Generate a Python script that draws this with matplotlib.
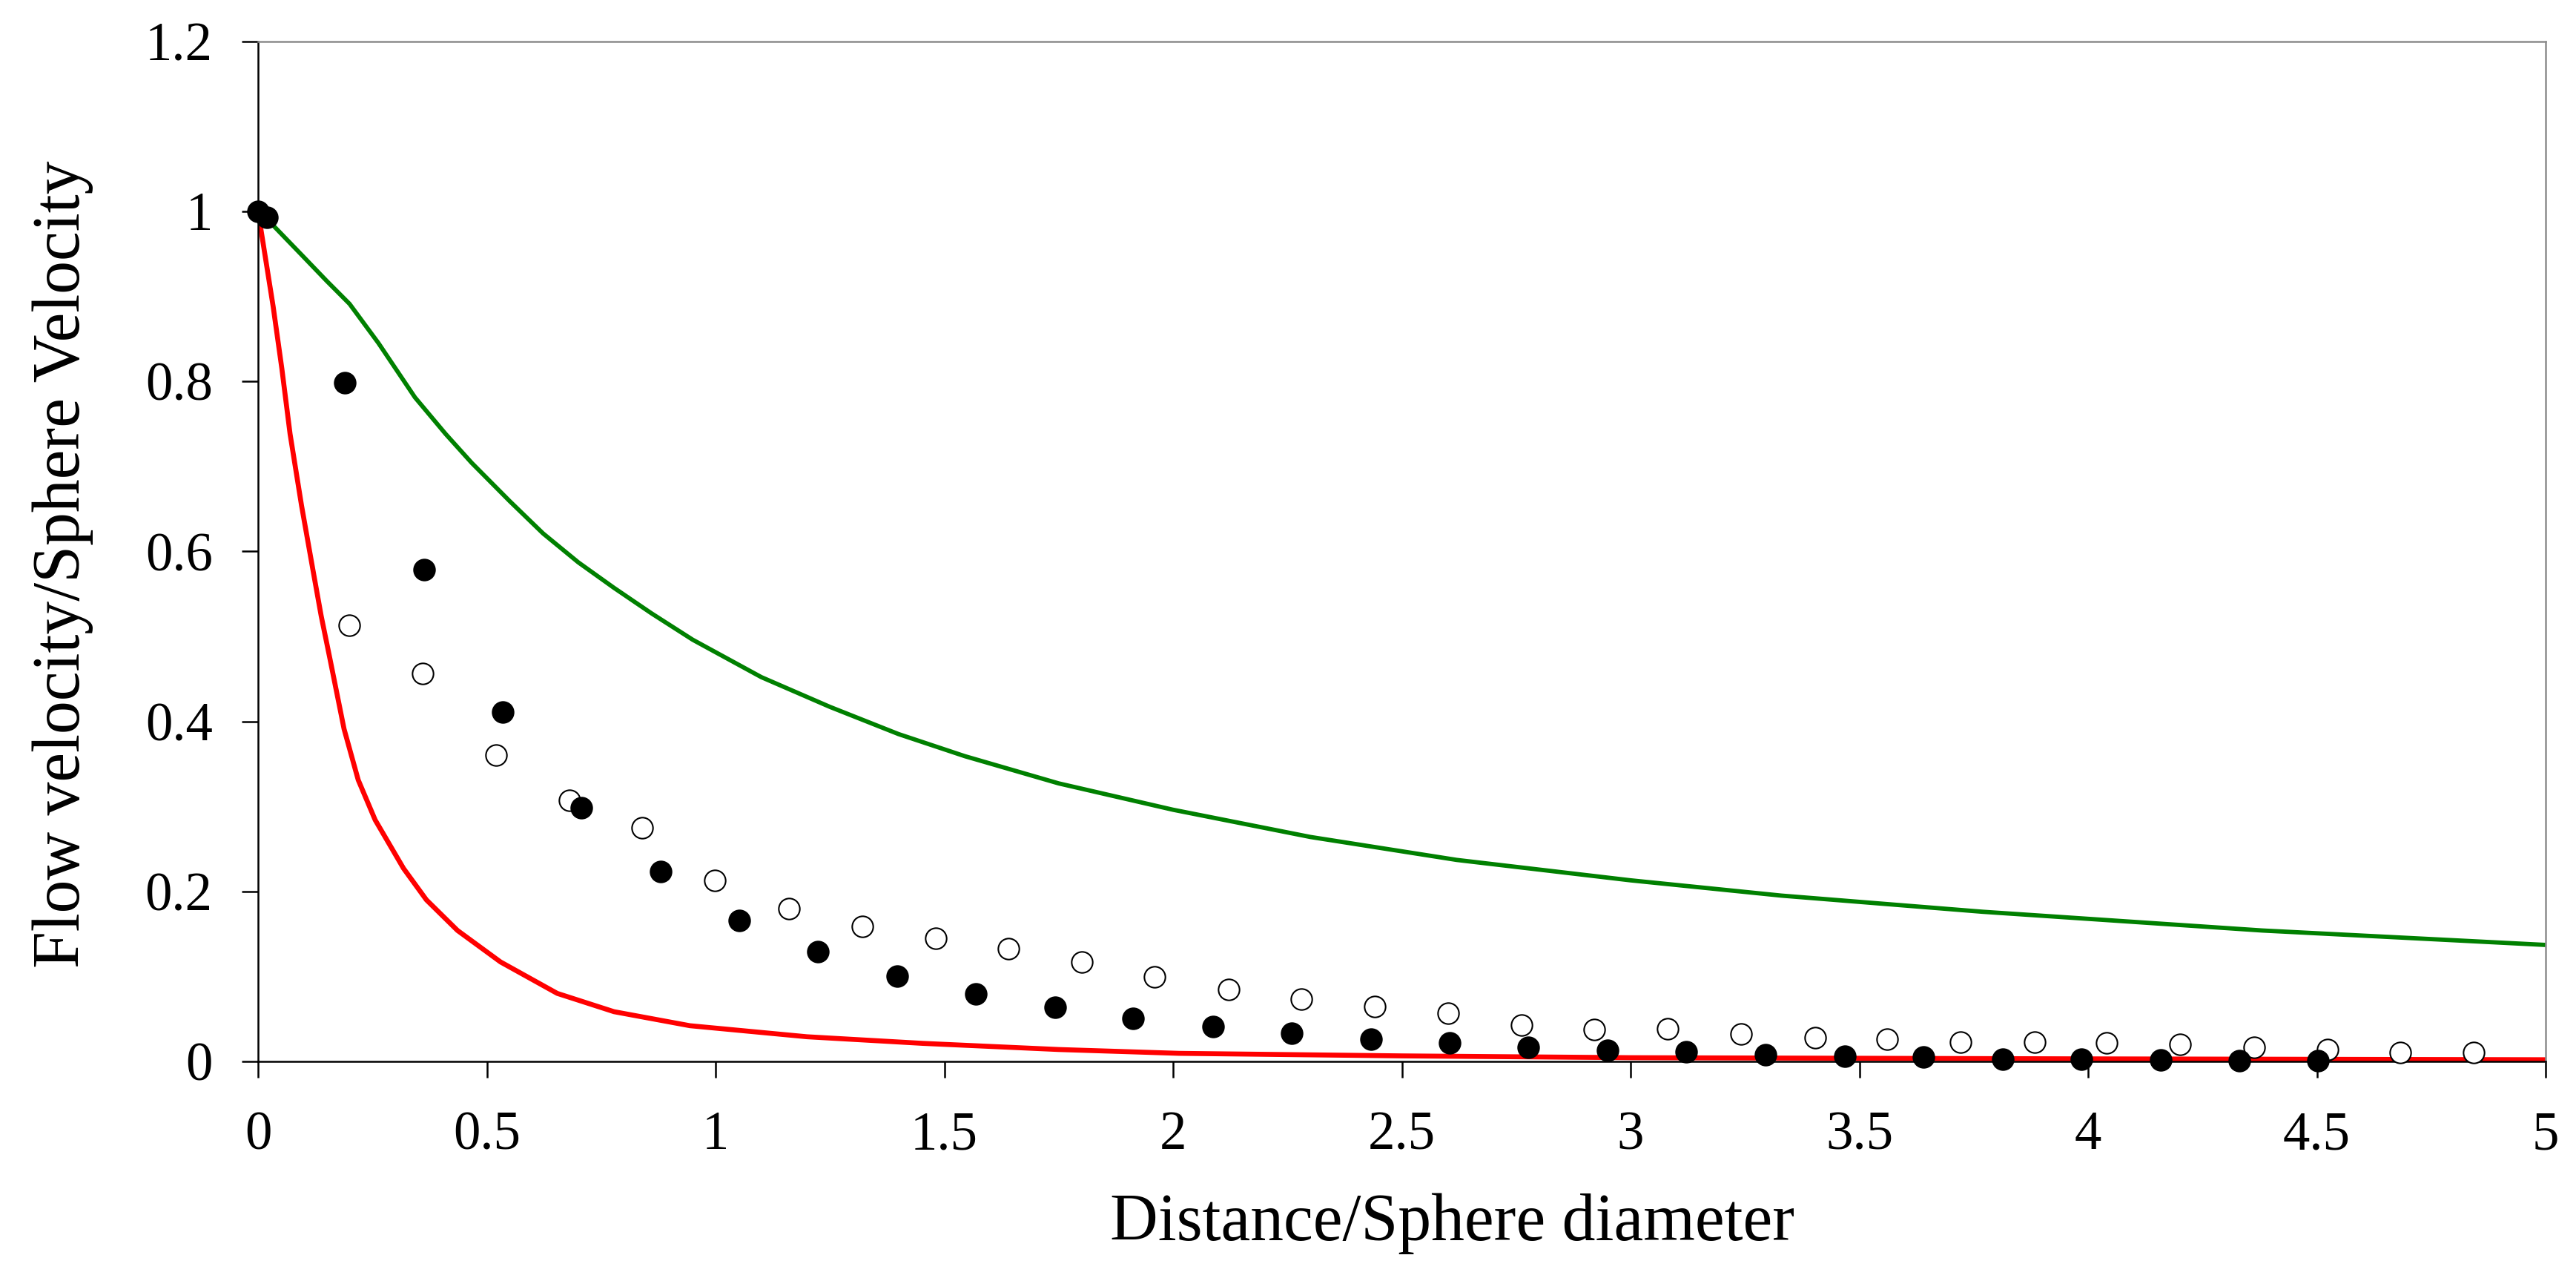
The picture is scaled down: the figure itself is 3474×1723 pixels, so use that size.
import matplotlib
matplotlib.use("Agg")
from matplotlib import pyplot as plt

plt.rcParams['font.family'] = ['Liberation Serif', 'DejaVu Serif']

# measured points (filled circles)
filled_x = [0, 0.02, 0.19, 0.363, 0.535, 0.706, 0.880, 1.052, 1.223, 1.397, 1.569, 1.742,
            1.913, 2.087, 2.260, 2.432, 2.605, 2.777, 2.950, 3.122, 3.295, 3.468, 3.640,
            3.813, 3.985, 4.159, 4.330, 4.503]
filled_y = [1.0, 0.993, 0.798, 0.578, 0.411, 0.298, 0.223, 0.166, 0.129, 0.100, 0.079, 0.064,
            0.051, 0.041, 0.033, 0.0265, 0.0215, 0.017, 0.0135, 0.011, 0.008, 0.0063, 0.005,
            0.003, 0.003, 0.0017, 0.001, 0.001]

# measured points (open circles)
open_x = [0.199, 0.360, 0.520, 0.680, 0.840, 0.998, 1.161, 1.321, 1.481, 1.640, 1.801, 1.960,
          2.121, 2.281, 2.441, 2.601, 2.761, 2.921, 3.081, 3.242, 3.404, 3.561, 3.722, 3.883,
          4.041, 4.201, 4.363, 4.523, 4.683, 4.843]
open_y = [0.513, 0.456, 0.360, 0.307, 0.275, 0.2126, 0.1797, 0.1585, 0.1445, 0.1325, 0.1166, 0.0996,
          0.0843, 0.0736, 0.0643, 0.057, 0.0426, 0.0375, 0.0382, 0.032, 0.0281, 0.0264, 0.0226, 0.0229,
          0.0218, 0.020, 0.0167, 0.0142, 0.0108, 0.0108]

# upper model curve (green)
green_x = [0, 0.03, 0.1, 0.15, 0.2, 0.263, 0.343, 0.41, 0.467, 0.55, 0.623, 0.7, 0.778, 0.86,
           0.95, 1.1, 1.25, 1.4, 1.545, 1.75, 2.0, 2.3, 2.62, 3.0, 3.33, 3.77, 4.38, 5.0]
green_y = [1.0, 0.985, 0.946, 0.918, 0.891, 0.845, 0.781, 0.738, 0.704, 0.659, 0.621, 0.587, 0.557,
           0.527, 0.496, 0.452, 0.417, 0.385, 0.359, 0.327, 0.296, 0.264, 0.237, 0.213, 0.195,
           0.176, 0.154, 0.137]

# lower model curve (red)
red_x = [0, 0.033, 0.052, 0.070, 0.095, 0.120, 0.138, 0.157, 0.188, 0.219, 0.256, 0.318, 0.368,
         0.436, 0.530, 0.654, 0.778, 0.944, 1.2, 1.454, 1.75, 2.013, 2.5, 3.0, 4.0, 5.0]
red_y = [1.0, 0.888, 0.815, 0.738, 0.654, 0.578, 0.524, 0.474, 0.391, 0.331, 0.284, 0.227, 0.190,
         0.154, 0.117, 0.080, 0.0585, 0.042, 0.029, 0.0212, 0.014, 0.0095, 0.0065, 0.0044, 0.003, 0.002]

xticks = [0, 0.5, 1, 1.5, 2, 2.5, 3, 3.5, 4, 4.5, 5]
xtick_labels = ['0', '0.5', '1', '1.5', '2', '2.5', '3', '3.5', '4', '4.5', '5']
yticks = [0, 0.2, 0.4, 0.6, 0.8, 1.0, 1.2]
ytick_labels = ['0', '0.2', '0.4', '0.6', '0.8', '1', '1.2']

fig = plt.figure(figsize=(3474 / 300, 1723 / 300), dpi=300)
ax = fig.add_axes([348 / 3474, 1 - 1431 / 1723, (3433 - 348) / 3474, (1431 - 55.5) / 1723])

ax.plot(green_x, green_y, color='#008000', lw=1.4, zorder=2, solid_joinstyle='round')
ax.plot(red_x, red_y, color='#ff0000', lw=1.6, zorder=2, solid_joinstyle='round')
ax.plot(open_x, open_y, 'o', ms=6.8, mfc='white', mec='black', mew=0.5, zorder=3, clip_on=False)
ax.plot(filled_x, filled_y, 'o', ms=6.9, mfc='black', mec='black', mew=0.4, zorder=4, clip_on=False)

ax.set_xlim(0, 5)
ax.set_ylim(0, 1.2)
ax.set_xticks(xticks)
ax.set_xticklabels(xtick_labels)
ax.set_yticks(yticks)
ax.set_yticklabels(ytick_labels)
ax.tick_params(axis='both', direction='out', length=5.2, width=0.6, labelsize=17.5)
ax.tick_params(axis='x', pad=10.8)
ax.tick_params(axis='y', pad=9.5)

for s in ['left', 'bottom']:
    ax.spines[s].set_color('black')
    ax.spines[s].set_linewidth(0.6)
for s in ['top', 'right']:
    ax.spines[s].set_color('#8c8c8c')
    ax.spines[s].set_linewidth(0.6)

ax.set_xlabel('Distance/Sphere diameter', fontsize=21.5)
ax.set_ylabel('Flow velocity/Sphere Velocity', fontsize=21.5)
ax.xaxis.set_label_coords(0.522, -0.129)
ax.yaxis.set_label_coords(-0.072, 0.487)

fig.savefig('out.png', dpi=300)
